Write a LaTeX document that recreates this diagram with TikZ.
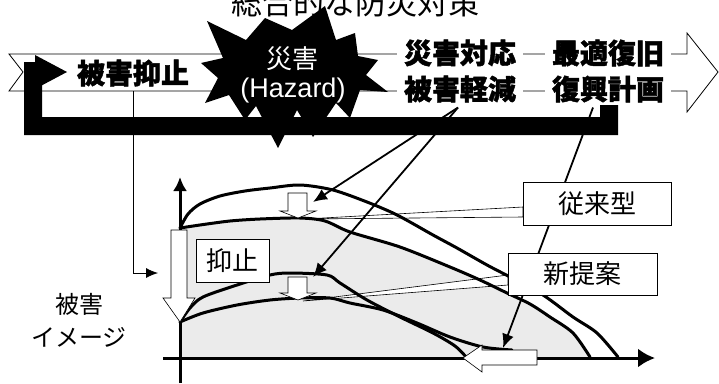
\documentclass[tikz,border=0pt]{standalone}
\usepackage{fontspec}
\setmainfont{Liberation Sans}
\newfontfamily\jp{Noto Sans CJK JP}[BoldFeatures={FakeBold=1.6}]
\usetikzlibrary{arrows.meta}
\tikzset{>=latex}
\tikzset{
  dmgcurve/.style={line width=3pt,line join=round,line cap=round},
  hollow/.style={draw,fill=white,line width=0.6pt,line join=miter},
  ptrarrow/.style={line width=1.8pt,-{Latex[length=14pt,width=12pt]}},
  bandtext/.style={font=\jp\bfseries\fontsize{28}{28}\selectfont,fill=white,inner xsep=7pt,inner ysep=0pt},
  labelbox/.style={draw,fill=white,line width=0.8pt,font=\jp\fontsize{26}{26}\selectfont,inner sep=0pt},
}

\begin{document}
\begin{tikzpicture}[x=1pt,y=-1pt]
  \useasboundingbox (0,0) rectangle (719,383);
  \clip (0,0) rectangle (719,383);

  % TITLE
  \node[font=\jp\fontsize{31}{31}\selectfont,anchor=base] (title) at (355,14) {総合的な防災対策};

  % BAND
  \draw[fill=white,line width=0.8pt,line join=miter]
    (9,54) -- (687,54) -- (687,33) -- (718,72) -- (687,112) -- (687,91) -- (9,91) -- (23,72) -- cycle;
  \coordinate (drop) at (133,91);
  \coordinate (graphin) at (158,273);
  \draw[line width=0.8pt,-{Latex[length=12pt,width=10pt]}] (drop) |- (graphin);

  % BLACK FEEDBACK ARROW
  \fill (24,135) -- (24,62) -- (42,62) -- (42,117) -- (600,117) -- (600,105) -- (618,105) -- (618,135) -- cycle;
  \fill (35,55) -- (67,72) -- (35,89) -- cycle;

  % STAR
  \fill (325,6) -- (336,40) -- (355,33) -- (358,56) -- (378,60) -- (366,75) -- (388,92) -- (360,90)
    -- (350,118) -- (336,103) -- (313,137) -- (297,110) -- (278,148) -- (256,106) -- (245,120)
    -- (229,95) -- (205,103) -- (218,78) -- (201,63) -- (223,58) -- (207,21) -- (246,40)
    -- (265,18) -- (292,30) -- cycle;
  \node[text=white,font=\jp\fontsize{26}{26}\selectfont] (sai) at (292,59) {災害};
  \node[text=white,font=\fontsize{27}{27}\selectfont] (hazard) at (293,91) {(Hazard)};

  % BAND TEXTS
  \node[font=\jp\bfseries\fontsize{28}{28}\selectfont] (yoku) at (133,73) {被害抑止};
  \node[bandtext] (taio) at (460,53) {災害対応};
  \node[bandtext] (saiteki) at (608,53) {最適復旧};
  \node[bandtext] (kei) at (460,89) {被害軽減};
  \node[bandtext] (fukko) at (608,89) {復興計画};

  % GRAPH
  \fill[black!8] plot[smooth] coordinates {(180,228) (200,225) (230,221) (260,219) (300,218) (325,221)
    (350,232) (400,247) (450,267) (480,280) (507,293) (530,304) (550,317) (573,333) (590,357)}
    -- (180,358) -- cycle;
  \draw[line width=3pt,-{Latex[length=17pt,width=19pt]}] (163,358) -- (655,358);
  \draw[line width=3pt,-{Latex[length=14pt,width=14pt]}] (180,383) -- (180,177);

  % callouts
  \draw[fill=white,line width=0.6pt] (305,219) -- (523,207) -- (523,217) -- cycle;
  \draw[fill=white,line width=0.6pt] (303,301) -- (508,275) -- (508,285) -- cycle;

  % conventional
  \draw[dmgcurve] plot[smooth] coordinates {(180,228) (188,214) (200,204) (220,196) (245,191) (270,188)
    (300,185) (333,190) (367,202) (393,213) (410,222) (433,235) (457,248) (487,265) (510,277)
    (543,295) (573,317) (597,333) (618,357)};
  \draw[dmgcurve] plot[smooth] coordinates {(180,228) (200,225) (230,221) (260,219) (300,218) (325,221)
    (350,232) (400,247) (450,267) (480,280) (507,293) (530,304) (550,317) (573,333) (590,357)};
  % proposed
  \draw[dmgcurve] plot[smooth] coordinates {(180,322) (190,308) (203,297) (237,285) (270,275) (290,273)
    (327,275) (340,283) (367,300) (400,317) (433,333) (455,346) (467,358)};
  \draw[dmgcurve] plot[smooth] coordinates {(180,322) (203,313) (237,305) (270,300) (300,298) (330,298)
    (350,303) (383,310) (417,323) (450,337) (483,347) (512,350)};

  % hollow arrows
  \draw[hollow] (288,193) -- (307,193) -- (307,211) -- (316,211) -- (298,218) -- (280,211) -- (288,211) -- cycle;
  \draw[hollow] (288,277) -- (307,277) -- (307,293) -- (316,293) -- (298,300) -- (280,293) -- (288,293) -- cycle;
  \draw[hollow] (171,230) -- (187,230) -- (187,298) -- (195,298) -- (180,322) -- (163,298) -- (171,298) -- cycle;
  \draw[hollow] (537,350) -- (482,350) -- (482,345) -- (463,358) -- (482,372) -- (482,365) -- (537,365) -- cycle;

  % pointers
  \coordinate (tgtA) at (313,202);
  \coordinate (tgtC) at (313,277);
  \coordinate (tgtD) at (503,348);
  \draw[ptrarrow] ([xshift=-2pt,yshift=-5pt]kei.south) -- (tgtA);
  \draw[ptrarrow] ([xshift=-2pt,yshift=-5pt]kei.south) -- (tgtC);
  \draw[ptrarrow] ([xshift=-15pt,yshift=-5pt]fukko.south) -- (tgtD);

  % LABELS
  \node[labelbox,minimum width=73pt,minimum height=43pt] (yokushi) at (232.5,260.5) {抑止};
  \node[labelbox,minimum width=148pt,minimum height=43pt] (jurai) at (597,203.5) {従来型};
  \node[labelbox,minimum width=149pt,minimum height=42pt] (shin) at (582.5,274) {新提案};
  \node[font=\jp\fontsize{24}{33}\selectfont,align=center] (image) at (79,320) {被害\\イメージ};
\end{tikzpicture}
\end{document}
